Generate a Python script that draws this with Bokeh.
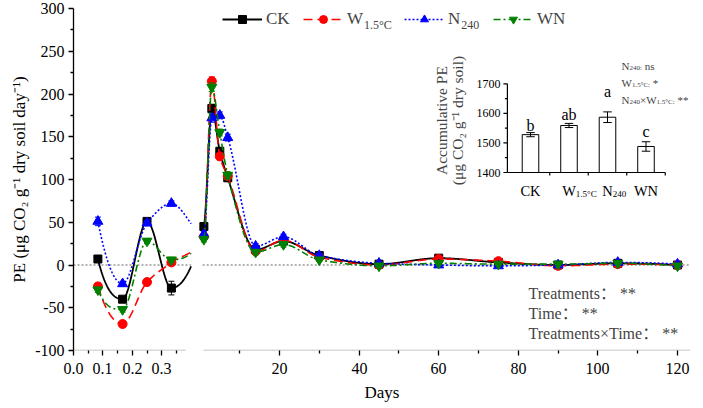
import numpy as np
from bokeh.plotting import figure
from bokeh.models import Range1d, FixedTicker, Legend, LegendItem, Label, PolyAnnotation
from bokeh.embed import file_html
from bokeh.resources import INLINE
from bokeh.core.properties import value

# ---------------- data ----------------
EARLY_DAYS = [0.083, 0.167, 0.25, 0.333]
LATE_DAYS = [1, 3, 5, 7, 14, 21, 30, 45, 60, 75, 90, 105, 120]

CK_EARLY = [7, -40, 51, -27]
W_EARLY = [-25, -69, -20, 3]
N_EARLY = [51, -22, 49, 72]
WN_EARLY = [-29, -52, 28, 6]

CK_LATE = [45, 183, 133, 102, 18, 28, 11, 1, 8, 3, 0, 2, 0]
W_LATE = [33, 215, 127, 104, 16, 29, 9, 0, 7, 4.5, -1, 1, 0]
N_LATE = [36, 172, 175, 149, 22, 33, 11, 2, 0, -1, 0, 3, 1]
WN_LATE = [30, 208, 155, 105, 15, 24, 6, -1, 2, 1, 1, 2, -1]

CK_EARLY_ERR = [3, 3, 4, 8]
W_EARLY_ERR = [4, 3, 3, 3]
N_EARLY_ERR = [5, 3, 3, 3]
WN_EARLY_ERR = [3, 3, 3, 3]

CK_LATE_ERR = [4, 5, 4, 4, 3, 3, 2, 1, 2, 1, 1, 1, 1]
W_LATE_ERR = [3, 5, 4, 4, 3, 3, 2, 1, 2, 2, 1, 1, 1]
N_LATE_ERR = [3, 5, 4, 4, 3, 3, 2, 1, 1, 1, 1, 1, 1]
WN_LATE_ERR = [3, 5, 4, 4, 3, 3, 2, 1, 1, 1, 1, 1, 1]

SERIES_MAIN = ["CK", "W", "N", "WN"]
SERIES_SUB = ["", "1.5°C", "240", ""]

ACC_MAIN = ["CK", "W", "N", "WN"]
ACC_SUB = ["", "1.5°C", "240", ""]
ACC_MEAN = [1528, 1559, 1587, 1488]
ACC_ERR = [7, 7, 18, 16]
ACC_LETTERS = ["b", "ab", "a", "c"]
ACC_TICKS = [1400, 1500, 1600, 1700]
ACC_MINOR = [1450, 1550, 1650]

LEFT_TICKS = [0.0, 0.1, 0.2, 0.3]
LEFT_TICK_LABELS = ["0.0", "0.1", "0.2", "0.3"]
LEFT_MINOR = [0.05, 0.15, 0.25, 0.35]
RIGHT_TICKS = [20, 40, 60, 80, 100, 120]
RIGHT_MINOR = [10, 30, 50, 70, 90, 110]
Y_TICKS = [-100, -50, 0, 50, 100, 150, 200, 250, 300]
Y_MINOR = [-75, -25, 25, 75, 125, 175, 225, 275]

STATS_LINES = ["Treatments： **", "Time： **", "Treatments×Time： **"]

# ---------------- style / layout ----------------
FONT = "Liberation Serif"
COLORS = ["#000000", "#FF0000", "#0000FF", "#008000"]
DASHES = ["solid", "9 5", "2 2", "7 3 2 3"]
MARKERS = ["square", "circle", "triangle", "inverted_triangle"]
MSIZES = [8, 9, 10, 10]
LWIDTHS = [1.8, 1.6, 1.6, 1.6]

W, H = 703, 408
FL, FR, FT, FB = 73, 690, 8, 350          # frame edges in page pixels
FW = FR - FL
LEFT_PX_PER_DAY = 294.0
RIGHT_U20 = 206.0
RIGHT_PX_PER_DAY = 3.98
LEFT_END = 0.4
LEFT_AXIS_END = 0.382
RIGHT_START = 0.9


def u_left(t):
    return LEFT_PX_PER_DAY * np.asarray(t, float)


def u_right(d):
    return RIGHT_U20 + RIGHT_PX_PER_DAY * (np.asarray(d, float) - 20)


def pchip(x, y, xq):
    """Shape-preserving piecewise cubic connection (Fritsch-Carlson)."""
    x = np.asarray(x, float)
    y = np.asarray(y, float)
    xq = np.asarray(xq, float)
    n = len(x)
    h = np.diff(x)
    d = np.diff(y) / h
    m = np.zeros(n)
    for k in range(1, n - 1):
        if d[k - 1] * d[k] > 0:
            w1 = 2 * h[k] + h[k - 1]
            w2 = h[k] + 2 * h[k - 1]
            m[k] = (w1 + w2) / (w1 / d[k - 1] + w2 / d[k])

    def edge(h0, h1, d0, d1):
        e = ((2 * h0 + h1) * d0 - h0 * d1) / (h0 + h1)
        if np.sign(e) != np.sign(d0):
            e = 0.0
        elif np.sign(d0) != np.sign(d1) and abs(e) > abs(3 * d0):
            e = 3 * d0
        return e

    m[0] = edge(h[0], h[1], d[0], d[1])
    m[-1] = edge(h[-1], h[-2], d[-1], d[-2])
    idx = np.clip(np.searchsorted(x, xq) - 1, 0, n - 2)
    hh = x[idx + 1] - x[idx]
    s = (xq - x[idx]) / hh
    h00 = 2 * s ** 3 - 3 * s ** 2 + 1
    h10 = s ** 3 - 2 * s ** 2 + s
    h01 = -2 * s ** 3 + 3 * s ** 2
    h11 = s ** 3 - s ** 2
    return h00 * y[idx] + h10 * hh * m[idx] + h01 * y[idx + 1] + h11 * hh * m[idx + 1]


CW = {' ': 250, '(': 333, ')': 333, '*': 500, '.': 250, ':': 278, '°': 400, '×': 564,
      'A': 722, 'C': 667, 'E': 611, 'K': 722, 'N': 722, 'O': 722, 'P': 556, 'T': 611,
      'W': 944, 'a': 444, 'b': 500, 'c': 444, 'd': 500, 'e': 444, 'g': 500, 'i': 278,
      'l': 278, 'm': 778, 'n': 500, 'o': 500, 'r': 333, 's': 389, 't': 278, 'u': 500,
      'v': 500, 'y': 500}


def tw(s, size):
    return sum(CW.get(c, 500) for c in s) / 1000.0 * size


p = figure(width=W, height=H, x_range=Range1d(0, FW), y_range=Range1d(-100, 300),
           output_backend="svg", toolbar_location=None, title=None,
           min_border_left=FL, min_border_right=W - FR, min_border_top=FT,
           min_border_bottom=H - FB)
p.grid.visible = False
p.outline_line_color = None

# inset mapping (page pixels)
IN_X0, IN_DX = 530.0, 38.5
IN_Y1400, IN_PPU = 172.0, 0.2957
p.extra_x_ranges = {
    "img_x": Range1d(FL, FR),
    "inset_x": Range1d((FL - IN_X0) / IN_DX, (FR - IN_X0) / IN_DX),
}
p.extra_y_ranges = {
    "img_y": Range1d(FB, FT),
    "inset_y": Range1d(1400 - (FB - IN_Y1400) / IN_PPU, 1400 + (IN_Y1400 - FT) / IN_PPU),
}

# ---------------- axes ----------------
xmaj = [int(round(v)) for v in list(u_left(LEFT_TICKS)) + list(u_right(RIGHT_TICKS))]
xmin = [int(round(v)) for v in list(u_left(LEFT_MINOR)) + list(u_right(RIGHT_MINOR))]
xlab = LEFT_TICK_LABELS + [str(v) for v in RIGHT_TICKS]
xa = p.xaxis[0]
xa.ticker = FixedTicker(ticks=xmaj, minor_ticks=xmin)
xa.major_label_overrides = {k: s for k, s in zip(xmaj, xlab)}
xa.axis_line_color = None
xa.axis_label = "Days"
xa.axis_label_standoff = 6
xa.major_label_standoff = 7

ya = p.yaxis[0]
ya.ticker = FixedTicker(ticks=Y_TICKS, minor_ticks=Y_MINOR)
ya.major_label_overrides = {v: str(v) for v in Y_TICKS}
ya.axis_label = "PE (μg CO₂ g⁻¹ dry soil day⁻¹)"
ya.axis_label_standoff = 3
ya.major_label_standoff = 4

for ax in (xa, ya):
    ax.major_label_text_font = FONT
    ax.major_label_text_font_size = "16px"
    ax.major_label_text_color = "black"
    ax.axis_label_text_font = FONT
    ax.axis_label_text_font_size = "17px"
    ax.axis_label_text_font_style = "normal"
    ax.axis_label_text_color = "black"
    ax.major_tick_in = 0
    ax.minor_tick_in = 0
    ax.major_tick_out = 5
    ax.minor_tick_out = 3
    ax.major_tick_line_width = 1.3
    ax.minor_tick_line_width = 1.3
    ax.major_tick_line_color = "black"
    ax.minor_tick_line_color = "black"
ya.axis_line_width = 1.3
ya.axis_line_color = "black"

# broken x axis line
p.add_layout(PolyAnnotation(xs=[0, float(u_left(LEFT_AXIS_END))], ys=[-100, -100],
                            line_color="black", line_width=1.3, fill_alpha=0))
p.add_layout(PolyAnnotation(xs=[float(u_right(RIGHT_START)), FW], ys=[-100, -100],
                            line_color="black", line_width=1.3, fill_alpha=0))
for dx in (0, 10):
    p.add_layout(PolyAnnotation(xs=[185 + dx, 196.7 + dx], ys=[356, 343.3],
                                x_range_name="img_x", y_range_name="img_y",
                                line_color="black", line_width=1.3, fill_alpha=0))

# zero reference line
p.segment(x0=[0, float(u_right(0.7))], x1=[float(u_left(LEFT_END)), FW], y0=[0, 0], y1=[0, 0],
          line_color="#666666", line_width=1.2, line_dash="2 2")

# ---------------- series ----------------
early = [CK_EARLY, W_EARLY, N_EARLY, WN_EARLY]
late = [CK_LATE, W_LATE, N_LATE, WN_LATE]
early_err = [CK_EARLY_ERR, W_EARLY_ERR, N_EARLY_ERR, WN_EARLY_ERR]
late_err = [CK_LATE_ERR, W_LATE_ERR, N_LATE_ERR, WN_LATE_ERR]

# smooth connection computed along the plotted (broken) axis position
u_pts = np.concatenate([u_left(EARLY_DAYS), u_right(LATE_DAYS)])
ul = np.linspace(u_pts[0], float(u_left(LEFT_END)), 160)
ur = np.linspace(float(u_right(LATE_DAYS[0])), u_pts[-1], 900)
legend_refs = []
for i in range(4):
    ys_all = early[i] + late[i]
    c = COLORS[i]
    p.line(ul, pchip(u_pts, ys_all, ul), line_color=c, line_width=LWIDTHS[i],
           line_dash=DASHES[i])
    lr = p.line(ur, pchip(u_pts, ys_all, ur), line_color=c, line_width=LWIDTHS[i],
                line_dash=DASHES[i])
    vy = np.array(ys_all, float)
    ev = np.array(early_err[i] + late_err[i], float)
    p.segment(x0=u_pts, x1=u_pts, y0=vy - ev, y1=vy + ev, line_color=c, line_width=1)
    p.segment(x0=u_pts - 3, x1=u_pts + 3, y0=vy - ev, y1=vy - ev, line_color=c, line_width=1)
    p.segment(x0=u_pts - 3, x1=u_pts + 3, y0=vy + ev, y1=vy + ev, line_color=c, line_width=1)
    sr = p.scatter(u_pts, vy, marker=MARKERS[i], size=MSIZES[i], fill_color=c, line_color=c)
    legend_refs.append((lr, sr))

# legends (one per entry) + subscripts
LEG_GLYPH_X = [222, 303, 404, 493]
LEG_CY = 19
LEG_FS = 17
for i in range(4):
    lg = Legend(items=[LegendItem(label=SERIES_MAIN[i], renderers=list(legend_refs[i]))],
                location=(LEG_GLYPH_X[i] - FL, FB - LEG_CY - 10), orientation="horizontal",
                padding=0, margin=0, spacing=0, border_line_color=None,
                background_fill_alpha=0, glyph_width=40, glyph_height=20,
                label_standoff=4, label_height=20,
                label_text_font=FONT, label_text_font_size=f"{LEG_FS}px")
    p.add_layout(lg)
    if SERIES_SUB[i]:
        sx = LEG_GLYPH_X[i] + 40 + 4 + tw(SERIES_MAIN[i], LEG_FS) + 0.5
        p.add_layout(Label(x=sx, y=LEG_CY + 5, text=SERIES_SUB[i], x_range_name="img_x",
                           y_range_name="img_y", text_font=FONT, text_font_size="12px",
                           text_baseline="middle", text_align="left"))

# ---------------- inset bar chart ----------------
idx = np.arange(len(ACC_MEAN))
XL, XR = -0.6, 3.5
p.vbar(x=idx, top=ACC_MEAN, bottom=1400, width=0.43, fill_color="white", line_color="black",
       line_width=1, x_range_name="inset_x", y_range_name="inset_y")
am = np.array(ACC_MEAN, float)
ae = np.array(ACC_ERR, float)
p.segment(x0=idx, x1=idx, y0=am - ae, y1=am + ae, line_color="black", line_width=1,
          x_range_name="inset_x", y_range_name="inset_y")
for sgn in (-1, 1):
    p.segment(x0=idx - 0.11, x1=idx + 0.11, y0=am + sgn * ae, y1=am + sgn * ae,
              line_color="black", line_width=1, x_range_name="inset_x", y_range_name="inset_y")
# inset axes
p.segment(x0=[XL, XL], x1=[XL, XR], y0=[1400, 1400], y1=[1700, 1400], line_color="black",
          line_width=1.2, x_range_name="inset_x", y_range_name="inset_y")
p.segment(x0=XL - 4 / IN_DX, x1=XL, y0=ACC_TICKS, y1=ACC_TICKS, line_color="black",
          line_width=1.2, x_range_name="inset_x", y_range_name="inset_y")
p.segment(x0=XL - 2.5 / IN_DX, x1=XL, y0=ACC_MINOR, y1=ACC_MINOR, line_color="black",
          line_width=1.2, x_range_name="inset_x", y_range_name="inset_y")
bnd = idx + 0.5
p.segment(x0=bnd, x1=bnd, y0=1400, y1=1400 - 3 / IN_PPU, line_color="black",
          line_width=1.2, x_range_name="inset_x", y_range_name="inset_y")
p.text(x=[XL] * len(ACC_TICKS), y=ACC_TICKS, text=[str(v) for v in ACC_TICKS], x_offset=-7,
       text_align="right", text_baseline="middle", text_font=value(FONT),
       text_font_size="12px", x_range_name="inset_x", y_range_name="inset_y")
# category labels
p.text(x=idx, y=[190] * 4, text=ACC_MAIN, text_align="center", text_baseline="middle",
       text_font=value(FONT), text_font_size="14.5px", x_range_name="inset_x",
       y_range_name="img_y")
sub_i = [k for k in range(4) if ACC_SUB[k]]
p.text(x=[float(k) for k in sub_i], y=[193.5] * len(sub_i), text=[ACC_SUB[k] for k in sub_i],
       x_offset=[tw(ACC_MAIN[k], 14.5) / 2 for k in sub_i], text_align="left",
       text_baseline="middle", text_font=value(FONT), text_font_size="9px",
       x_range_name="inset_x", y_range_name="img_y")
# significance letters
LETTER_GAP = [2, 4, 15, 5]
p.text(x=idx, y=am + ae, text=ACC_LETTERS, y_offset=[-(g + 5) for g in LETTER_GAP],
       text_align="center", text_baseline="middle", text_font=value(FONT),
       text_font_size="16px", x_range_name="inset_x", y_range_name="inset_y")
# inset y label
for txt, xx in (("Accumulative PE", 441), ("(μg CO₂ g⁻¹ dry soil)", 457)):
    p.add_layout(Label(x=xx, y=120, text=txt, angle=np.pi / 2, x_range_name="img_x",
                       y_range_name="img_y", text_font=FONT, text_font_size="15.5px",
                       text_align="center", text_baseline="middle"))


def rich(pieces, x, y, size, sub_size, drop):
    cx = x
    for txt, sub in pieces:
        fs = sub_size if sub else size
        lead = len(txt) - len(txt.lstrip(" "))
        cx += tw(" " * lead, fs)
        body = txt.lstrip(" ")
        p.add_layout(Label(x=cx, y=y + (drop if sub else 0), text=body, x_range_name="img_x",
                           y_range_name="img_y", text_font=FONT, text_font_size=f"{fs}px",
                           text_baseline="middle", text_align="left"))
        cx += tw(body, fs)


rich([("N", 0), ("240:", 1), (" ns", 0)], 621, 65, 11, 7, 2.5)
rich([("W", 0), ("1.5°C:", 1), (" *", 0)], 621, 82, 11, 7, 2.5)
rich([("N", 0), ("240", 1), ("×W", 0), ("1.5°C:", 1), (" **", 0)], 621, 99, 11, 7, 2.5)

for k, txt in enumerate(STATS_LINES):
    p.add_layout(Label(x=528, y=293 + 20 * k, text=txt, x_range_name="img_x",
                       y_range_name="img_y", text_font=FONT + ", Noto Sans CJK SC",
                       text_font_size="16px", text_baseline="middle", text_align="left"))

open("out.html", "w").write(file_html(p, INLINE))
